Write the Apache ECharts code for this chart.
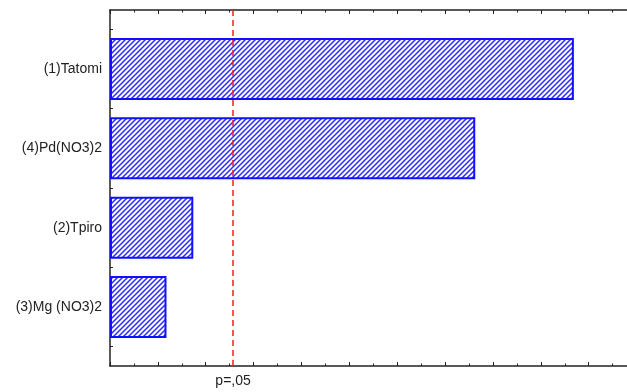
<!DOCTYPE html>
<html>
<head>
<meta charset="utf-8">
<script src="https://cdn.jsdelivr.net/npm/echarts@6/dist/echarts.min.js"></script>
<style>html,body{margin:0;padding:0;background:#fff}#c{width:627px;height:392px}</style>
</head>
<body>
<div id="c"></div>
<script>
// Data
var categories = ['(1)Tatomi', '(4)Pd(NO3)2', '(2)Tpiro', '(3)Mg (NO3)2'];
var effects = [9.69, 7.63, 1.74, 1.18];
var pCrit = 2.5706;
var pLabel = 'p=,05';
var xMin = 0, xMax = 10.8;

function hatch() {
  var n = 5;
  var c = document.createElement('canvas');
  c.width = n; c.height = n;
  var g = c.getContext('2d');
  g.fillStyle = '#ffffff'; g.fillRect(0, 0, n, n);
  g.strokeStyle = '#2a2aff'; g.lineWidth = 1.5;
  g.beginPath();
  g.moveTo(-1, n + 1); g.lineTo(n + 1, -1);
  g.moveTo(-1, 1); g.lineTo(1, -1);
  g.moveTo(n - 1, n + 1); g.lineTo(n + 1, n - 1);
  g.stroke();
  return c;
}

var chart = echarts.init(document.getElementById('c'), null, {renderer: 'canvas'});
var axisCol = '#222';
var font = 'Liberation Sans, Arial, sans-serif';
chart.setOption({
  animation: false,
  grid: [
    {left: 110, top: 10, right: 0, height: 356},
    {left: 110, top: 29.4, right: 0, height: 317.2}
  ],
  xAxis: [
    {type: 'value', gridIndex: 0, position: 'bottom', min: xMin, max: xMax, interval: 1,
     axisLine: {show: true, lineStyle: {color: axisCol, width: 1.5}},
     axisTick: {show: true, inside: true, length: 4, lineStyle: {color: axisCol, width: 1}},
     minorTick: {show: true, splitNumber: 2, length: 2.5, lineStyle: {color: axisCol, width: 1}},
     splitLine: {show: false},
     axisLabel: {show: true, customValues: [pCrit], formatter: function () { return pLabel; },
       margin: 8, fontSize: 14, color: '#222', fontFamily: font}},
    {type: 'value', gridIndex: 0, position: 'top', min: xMin, max: xMax, interval: 1,
     axisLine: {show: true, lineStyle: {color: axisCol, width: 1.5}},
     axisTick: {show: true, inside: true, length: 4, lineStyle: {color: axisCol, width: 1}},
     minorTick: {show: true, splitNumber: 2, length: 2.5, lineStyle: {color: axisCol, width: 1}},
     splitLine: {show: false}, axisLabel: {show: false}},
    {type: 'value', gridIndex: 1, min: xMin, max: xMax, show: false}
  ],
  yAxis: [
    {type: 'value', gridIndex: 0, min: 0, max: 1,
     axisLine: {show: true, lineStyle: {color: axisCol, width: 1.5}},
     axisTick: {show: false}, axisLabel: {show: false}, splitLine: {show: false}},
    {type: 'category', gridIndex: 1, data: categories, inverse: true,
     axisLine: {show: false},
     axisTick: {show: true, inside: true, length: 3, lineStyle: {color: axisCol, width: 1}},
     axisLabel: {show: true, margin: 8, fontSize: 14, color: '#222', fontFamily: font},
     splitLine: {show: false}},
    {type: 'category', gridIndex: 1, data: categories, inverse: true, position: 'left',
     axisLine: {show: false},
     axisTick: {show: true, inside: true, alignWithLabel: true, length: 3, lineStyle: {color: axisCol, width: 1}},
     axisLabel: {show: false}, splitLine: {show: false}}
  ],
  series: [
    {type: 'bar', xAxisIndex: 2, yAxisIndex: 1, data: effects, barWidth: 62,
     itemStyle: {color: {image: hatch(), repeat: 'repeat'}, borderColor: '#1010ff', borderWidth: 2},
     silent: true},
    {type: 'scatter', xAxisIndex: 0, yAxisIndex: 0, data: [],
     markLine: {silent: true, symbol: ['none', 'none'], label: {show: false},
       lineStyle: {color: '#ff1a1a', type: [6, 4], width: 1.5},
       data: [{xAxis: pCrit}]}}
  ]
});
</script>
</body>
</html>
